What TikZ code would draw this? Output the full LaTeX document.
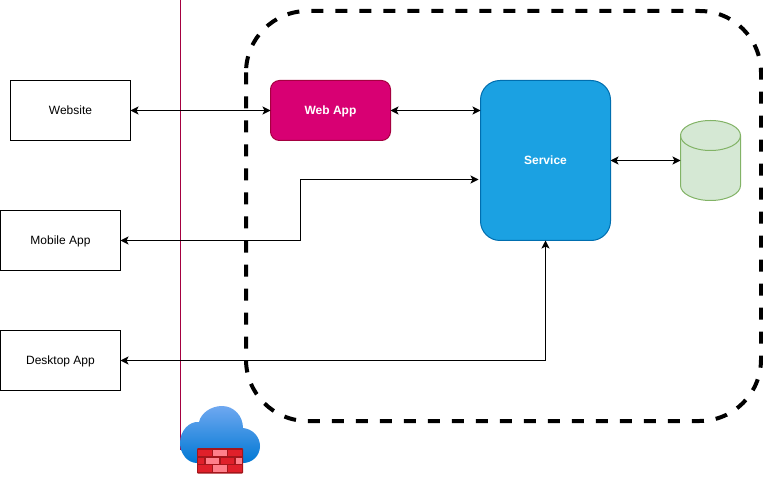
\documentclass[tikz,border=0pt]{standalone}
\usepackage{fontspec}
\setmainfont{Liberation Sans}
\usetikzlibrary{arrows.meta,shapes.geometric}
\definecolor{webfill}{HTML}{D80073}
\definecolor{webline}{HTML}{A50040}
\definecolor{svcfill}{HTML}{1BA1E2}
\definecolor{svcline}{HTML}{006EAF}
\definecolor{dbfill}{HTML}{D5E8D4}
\definecolor{dbline}{HTML}{82B366}
\definecolor{cloudtop}{HTML}{6FA8F0}
\definecolor{cloudbot}{HTML}{0078D4}
\definecolor{brickdark}{HTML}{A4161B}
\definecolor{brickred}{HTML}{E0202A}
\definecolor{brickpink}{HTML}{FF7F8A}
\tikzset{
  labeltext/.style={text height=8.6pt,text depth=0pt,inner sep=0pt,outer sep=0pt,line width=1pt},
  client/.style={labeltext,draw=black,fill=white,minimum width=120pt,minimum height=60pt,font=\fontsize{12}{14}\selectfont},
  webbox/.style={labeltext,draw=webline,fill=webfill,text=white,rounded corners=9pt,minimum width=120pt,minimum height=60pt,font=\fontsize{12}{14}\selectfont\bfseries},
  svcbox/.style={labeltext,draw=svcline,fill=svcfill,text=white,rounded corners=19.5pt,minimum width=130pt,minimum height=160pt,font=\fontsize{12}{14}\selectfont\bfseries},
  boundary/.style={draw=black,line width=4pt,dash pattern=on 12pt off 12pt,rounded corners=61.5pt},
  link/.style={draw=black,line width=1pt,{Stealth[length=8pt,width=8pt,inset=2pt]}-{Stealth[length=8pt,width=8pt,inset=2pt]}},
  dbshape/.style={draw=dbline,fill=dbfill,line width=1pt},
  brickR/.style={fill=brickred},
  brickP/.style={fill=brickpink}
}
\begin{document}
\begin{tikzpicture}[x=1pt,y=-1pt]
\useasboundingbox (0,0) rectangle (763,481);
\draw[boundary] (246,11) rectangle (761,421);
\draw[webline,line width=1pt] (180.5,0) -- (180.5,450);
% firewall icon
\shade[top color=cloudtop,bottom color=cloudbot]
  (197,463) .. controls (187,463) and (180,453) .. (180,443)
  .. controls (180,431) and (189,421) .. (199,422)
  .. controls (201,413) and (211,406) .. (222,406)
  .. controls (234,406) and (243,416) .. (243,428)
  .. controls (253,429) and (260,437) .. (260,446)
  .. controls (260,456) and (252,463) .. (243,463) -- cycle;
\fill[brickdark,rounded corners=1pt] (197,448) rectangle (243,473.5);
\fill[brickR] (198.3,450) rectangle (212.3,456);
\fill[brickP] (213.3,450) rectangle (226.7,456);
\fill[brickR] (228.3,450) rectangle (241.7,456);
\fill[brickR] (198.3,457.7) rectangle (204.3,464);
\fill[brickP] (206,457.7) rectangle (219.3,464);
\fill[brickR] (220.7,457.7) rectangle (234,464);
\fill[brickP] (235.7,457.7) rectangle (241.7,464);
\fill[brickR] (198.3,465.3) rectangle (212.3,471.7);
\fill[brickP] (213.3,465.3) rectangle (226.7,471.7);
\fill[brickR] (228.3,465.3) rectangle (241.7,471.7);
% nodes
\node[client] (website) at (70.5,110.5) {Website};
\node[client] (mobile) at (60.5,240.5) {Mobile App};
\node[client] (desktop) at (60.5,360.5) {Desktop App};
\node[webbox] (webapp) at (330.5,110.5) {Web App};
\node[svcbox] (service) at (545.5,160.5) {Service};
% database cylinder
\path[dbshape] (680.5,135.5) -- (680.5,185.5) arc[start angle=180,end angle=360,x radius=30pt,y radius=15pt]
  -- (740.5,135.5) arc[start angle=0,end angle=180,x radius=30pt,y radius=15pt] -- cycle;
\draw[dbline,line width=1pt] (680.5,135.5) arc[start angle=180,end angle=360,x radius=30pt,y radius=15pt];
\node[minimum width=60pt,minimum height=80pt,inner sep=0pt,outer sep=0pt] (db) at (710.5,160.5) {};
% connectors
\coordinate (bend) at (300.5,179.5);
\coordinate (svcin) at (478.5,179.5);
\draw[link] (website.east) -- (webapp.west);
\draw[link] (webapp.east) -- (service.west |- webapp.east);
\draw[link] (service.east) -- (db.west);
\draw[link] (mobile.east) -| (bend) -- (svcin);
\draw[link] (desktop.east) -| (service.south);
\end{tikzpicture}
\end{document}
